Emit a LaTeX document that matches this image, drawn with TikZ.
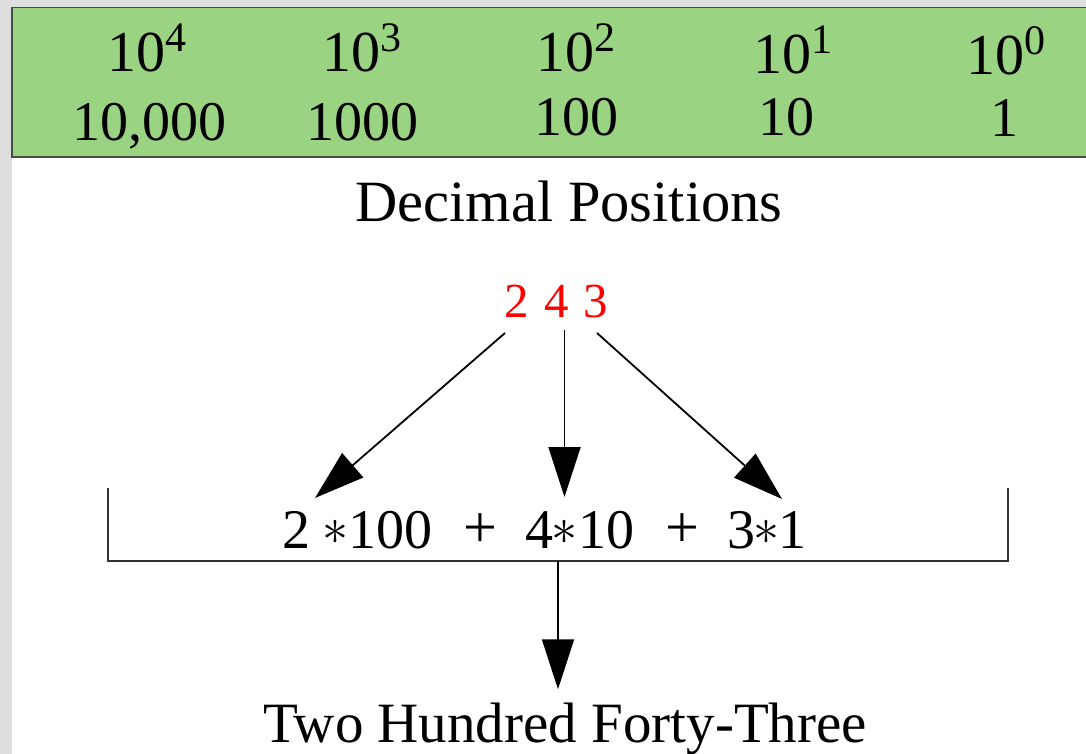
\documentclass[tikz,border=0pt]{standalone}
\usepackage{fontspec}
\setmainfont{Liberation Serif}
\usetikzlibrary{arrows.meta}
\definecolor{bandgreen}{RGB}{154,212,130}
\definecolor{bggray}{RGB}{222,222,222}
\definecolor{bandedge}{RGB}{70,78,70}
\definecolor{brk}{RGB}{50,50,50}
\newcommand\pw[1]{10\raisebox{20pt}{\fontsize{42}{42}\selectfont #1}}
\newcommand\astsym{\makebox[17pt]{\resizebox{26pt}{!}{$\ast$}}}
\begin{document}
\begin{tikzpicture}[x=1pt,y=-1pt,
  toptxt/.style={font=\fontsize{58}{60}\selectfont, inner sep=0pt, anchor=base},
  bottxt/.style={font=\fontsize{56}{60}\selectfont, inner sep=0pt, anchor=base},
  reddig/.style={font=\fontsize{49}{52}\selectfont, text=red, inner sep=0pt, anchor=base},
  exptxt/.style={font=\fontsize{56}{60}\selectfont, inner sep=0pt, anchor=base},
  opsym/.style={font=\fontsize{60}{62}\selectfont, inner sep=0pt, anchor=center},
  arr/.style={line width=1.8pt, -{Triangle[length=50pt,width=32pt]}},
  bracket/.style={line width=2pt, draw=brk}
]
\useasboundingbox (0,0) rectangle (1086,754);
% backgrounds
\fill[bggray] (0,0) rectangle (1086,754);
\fill[white] (12,157) rectangle (1086,754);
\draw[fill=bandgreen, draw=bandedge, line width=1.6pt] (12,7.5) rectangle (1092,157);

% powers
\node[toptxt] (p4) at (146.5,72) {\pw{4}};
\node[toptxt] (p3) at (362,72) {\pw{3}};
\node[toptxt] (p2) at (576,72) {\pw{2}};
\node[toptxt] (p1) at (793,74) {\pw{1}};
\node[toptxt] (p0) at (1006,75) {\pw{0}};
% values
\node[bottxt] (v4) at (149,141) {10,000};
\node[bottxt] (v3) at (362,141) {1000};
\node[bottxt] (v2) at (576,136) {100};
\node[bottxt] (v1) at (786,136) {10};
\node[bottxt] (v0) at (1004,137) {1};

\node[bottxt, font=\fontsize{58.5}{60}\selectfont] (dp) at (569,222) {Decimal Positions};

% red digits
\node[reddig] (d2) at (516.5,317) {2};
\node[reddig] (d4) at (556.5,317) {4};
\node[reddig] (d3) at (596,317) {3};

% expression
\node[exptxt] (e2) at (296.5,548) {2};
\node[opsym] (a1) at (335.5,532) {\astsym};
\node[exptxt] (e100) at (390,548) {100};
\node[opsym] (plus1) at (480,531) {+};
\node[exptxt] (e4) at (539,548) {4};
\node[opsym] (a2) at (564,532) {\astsym};
\node[exptxt] (e10) at (606,548) {10};
\node[opsym] (plus2) at (682,531) {+};
\node[exptxt] (e3) at (741,548) {3};
\node[opsym] (a3) at (766,532) {\astsym};
\node[exptxt] (e1) at (792,548) {1};

% bracket
\coordinate (bl) at (108,488);
\coordinate (br) at (1008,488);
\coordinate (bm) at (558,561);
\draw[bracket] (bl) -- (108,561) -- (1008,561) -- (br);

% title
\node[bottxt, font=\fontsize{57}{60}\selectfont, inner sep=13pt] (title) at (565,742) {Two Hundred Forty-Three};

% arrows
\coordinate (s2) at (505,333);
\coordinate (s4) at (564.5,330);
\coordinate (s3) at (597,333);
\coordinate (tL) at (315,498);
\coordinate (tM) at (564.5,497);
\coordinate (tR) at (782,499);
\draw[arr] (s2) -- (tL);
\draw[arr] (s4) -- (tM);
\draw[arr] (s3) -- (tR);
\draw[arr] (bm) -- (bm |- title.north);
\end{tikzpicture}
\end{document}
